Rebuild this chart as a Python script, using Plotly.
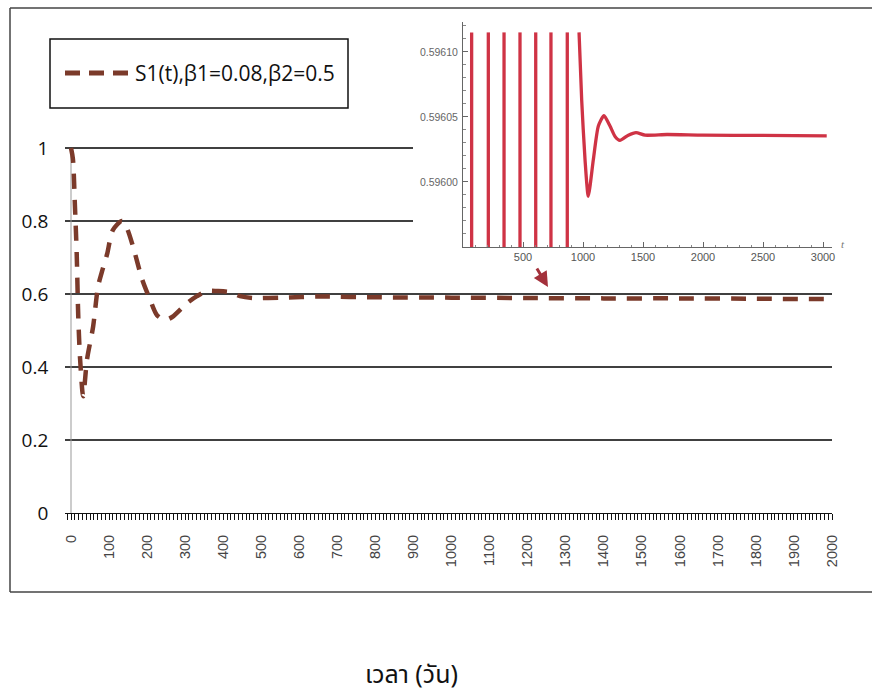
import plotly.graph_objects as go

# ---------------- data ----------------
# main curve S1(t), beta1=0.08, beta2=0.5
t_main = [0, 5, 10, 15, 19, 24, 32, 42, 58, 71, 81, 95, 110, 134, 147, 163, 187,
          208, 226, 247, 266, 305, 331, 357, 384, 418, 444, 478, 550, 650, 800,
          1000, 1200, 1400, 1600, 1800, 2000]
s1_main = [1.0, 0.97, 0.85, 0.71, 0.54, 0.42, 0.32, 0.42, 0.51, 0.62, 0.66, 0.71,
           0.775, 0.80, 0.78, 0.73, 0.64, 0.584, 0.542, 0.529, 0.537, 0.575, 0.594,
           0.608, 0.608, 0.605, 0.594, 0.589, 0.590, 0.593, 0.591, 0.590, 0.589,
           0.588, 0.588, 0.587, 0.586]

y_ticks = [0, 0.2, 0.4, 0.6, 0.8, 1.0]
y_tick_labels = ["0", "0.2", "0.4", "0.6", "0.8", "1"]
x_ticks = list(range(0, 2001, 100))

# inset (zoom of the steady state); vertical strokes are the fast crossings
inset_low = 0.59595
inset_high = 0.596115
inset_t = [72, 72, None, 211, 211, None, 342, 342, None, 475, 475, None,
           606, 606, None, 733, 733, None, 869, 869, None,
           967, 989, 1017, 1044, 1086, 1128, 1175, 1225, 1267, 1308, 1378,
           1442, 1517, 1700, 2000, 2500, 3031]
inset_v = [inset_low, inset_high, None, inset_high, inset_low, None,
           inset_low, inset_high, None, inset_high, inset_low, None,
           inset_low, inset_high, None, inset_high, inset_low, None,
           inset_low, inset_high, None,
           inset_high, 0.596063, 0.596017, 0.595989, 0.596017, 0.596043,
           0.596051, 0.596043, 0.596035, 0.596032, 0.596036, 0.596038,
           0.596036, 0.5960365, 0.596036, 0.5960358, 0.5960354]
inset_y_ticks = [0.596, 0.59605, 0.5961]
inset_y_labels = ["0.59600", "0.59605", "0.59610"]
inset_x_ticks = [500, 1000, 1500, 2000, 2500, 3000]

legend_label = "S1(t),β1=0.08,β2=0.5"
x_title = "เวลา (วัน)"

# ---------------- layout helpers ----------------
W, H = 872, 693


def px(x):
    return x / W


def py(y):
    return 1 - y / H


BROWN = "#7b3a2a"
RED = "#cf3345"

fig = go.Figure()

fig.add_trace(go.Scatter(
    x=t_main, y=s1_main, mode="lines", name=legend_label,
    line=dict(color=BROWN, width=4.5, dash="15px,11px", shape="spline", smoothing=0.8),
    xaxis="x", yaxis="y", showlegend=False, hoverinfo="skip"))

fig.add_trace(go.Scatter(
    x=inset_t, y=inset_v, mode="lines",
    line=dict(color=RED, width=3.3, shape="spline", smoothing=0.6),
    xaxis="x2", yaxis="y2", showlegend=False, hoverinfo="skip"))

shapes = []
# outer frame
for (x0, y0, x1, y1) in [(10, 8, 10, 592), (10, 8, 872, 8), (10, 592, 872, 592)]:
    shapes.append(dict(type="line", xref="paper", yref="paper",
                       x0=px(x0), y0=py(y0), x1=px(x1), y1=py(y1),
                       line=dict(color="#444", width=1.5), layer="below"))
# horizontal grid lines of main chart (upper two are hidden behind the inset)
for v in y_ticks[1:]:
    xend = 413 if v >= 0.8 else 832
    shapes.append(dict(type="line", xref="paper", yref="y",
                       x0=px(65), x1=px(xend), y0=v, y1=v,
                       line=dict(color="#000", width=1.4), layer="below"))
# main y-axis line
shapes.append(dict(type="line", xref="x", yref="y", x0=0, x1=0, y0=0, y1=1,
                   line=dict(color="#999", width=1), layer="below"))
# legend box & sample
shapes.append(dict(type="rect", xref="paper", yref="paper",
                   x0=px(50), x1=px(348), y0=py(108), y1=py(39),
                   line=dict(color="#111", width=1.5), fillcolor="white"))
shapes.append(dict(type="line", xref="paper", yref="paper",
                   x0=px(65), x1=px(128), y0=py(73), y1=py(73),
                   line=dict(color=BROWN, width=5, dash="15px,9px")))

annotations = [
    dict(text=legend_label, x=px(133), y=py(73), xref="paper", yref="paper",
         xanchor="left", yanchor="middle", showarrow=False,
         font=dict(family="Open Sans", size=21, color="#111")),
    dict(text=x_title, x=px(411), y=py(675), xref="paper", yref="paper",
         xanchor="center", yanchor="middle", showarrow=False,
         font=dict(family="Noto Sans Thai, Noto Sans, DejaVu Sans, sans-serif", size=25, color="#111")),
    dict(text="<i>t</i>", x=px(843), y=py(244), xref="paper", yref="paper",
         xanchor="center", yanchor="middle", showarrow=False,
         font=dict(family="Liberation Serif", size=11, color="#777")),
    dict(text="", x=px(548), y=py(287), xref="paper", yref="paper",
         showarrow=True, ax=-12, ay=-20, arrowhead=2, arrowsize=1,
         arrowwidth=3, arrowcolor="#a3313b"),
]

fig.update_layout(
    width=W, height=H, margin=dict(l=0, r=0, t=0, b=0, autoexpand=False),
    paper_bgcolor="white", plot_bgcolor="rgba(0,0,0,0)",
    showlegend=False,
    shapes=shapes, annotations=annotations,
    xaxis=dict(
        domain=[px(65.3), px(832)], range=[-15, 2000], anchor="y", automargin=False,
        showgrid=False, zeroline=False, showline=True, linecolor="#111", linewidth=1.2,
        tickmode="array", tickvals=x_ticks, ticktext=[str(v) for v in x_ticks],
        ticks="outside", ticklen=6, tickcolor="#111", tickwidth=1,
        minor=dict(dtick=10, tick0=0, ticks="outside", ticklen=6, tickcolor="#111", tickwidth=1),
        tickangle=-90, ticklabelstandoff=9,
        tickfont=dict(family="Liberation Sans", size=14.5, color="#444"),
    ),
    yaxis=dict(
        domain=[py(513), py(137.05)], range=[0, 1.03], anchor="x", automargin=False,
        showgrid=False, zeroline=False, showline=False,
        tickmode="array", tickvals=y_ticks, ticktext=y_tick_labels,
        ticks="", ticklabelstandoff=16,
        tickfont=dict(family="Open Sans", size=19, color="#111"),
    ),
    xaxis2=dict(
        domain=[px(463), px(832)], range=[0, 3075], anchor="y2", automargin=False,
        showgrid=False, zeroline=False, showline=True, linecolor="#666", linewidth=1,
        tickmode="array", tickvals=inset_x_ticks,
        ticks="inside", ticklen=5, tickcolor="#666",
        minor=dict(dtick=100, tick0=0, ticks="inside", ticklen=2.5, tickcolor="#888"),
        tickfont=dict(family="Liberation Sans", size=11, color="#555"),
    ),
    yaxis2=dict(
        domain=[py(247), py(22)], range=[0.59595, 0.596123], anchor="x2", automargin=False,
        showgrid=False, zeroline=False, showline=True, linecolor="#666", linewidth=1,
        tickmode="array", tickvals=inset_y_ticks, ticktext=inset_y_labels,
        ticks="inside", ticklen=5, tickcolor="#666",
        minor=dict(dtick=0.00001, tick0=0.596, ticks="inside", ticklen=2.5, tickcolor="#888"),
        ticklabelstandoff=2,
        tickfont=dict(family="Liberation Sans", size=10.5, color="#666"),
    ),
)

fig.write_html("out.html", config={"displayModeBar": False},
               post_script="document.body.style.margin='0';document.body.style.overflow='hidden';")
